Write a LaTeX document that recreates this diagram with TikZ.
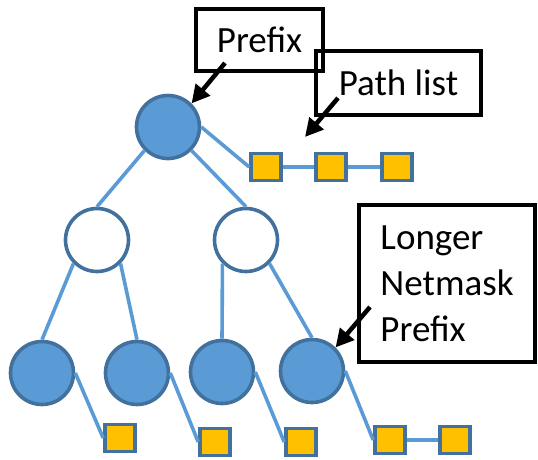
\documentclass[tikz,border=0pt]{standalone}
\usepackage{fontspec}
\setmainfont{Carlito}
\usetikzlibrary{arrows.meta}
\definecolor{nodeblue}{HTML}{5B9BD5}
\definecolor{rimblue}{HTML}{41719C}
\definecolor{pathgold}{HTML}{FFC000}

\begin{document}
\begin{tikzpicture}[x=1pt, y=-1pt, every node/.style={font=\fontsize{37}{46}\selectfont},
    prefixnode/.style={circle, draw=rimblue, line width=3.6pt, fill=nodeblue, minimum size=63pt, inner sep=0pt},
    innernode/.style={prefixnode, fill=white},
    pathentry/.style={rectangle, draw=rimblue, line width=3.6pt, fill=pathgold, minimum width=30pt, minimum height=27pt, inner sep=0pt},
    link/.style={draw=nodeblue, line width=3.6pt},
    callout/.style={rectangle, draw=black, line width=4.5pt, align=left, inner sep=0pt},
    pointer/.style={-{Triangle[length=18pt,width=18pt]}, line width=4.5pt}]
        \useasboundingbox (0,0) rectangle (538,460);
        % trie
        \node[prefixnode] (root) at (168,127) {};
        \node[innernode] (left) at (97,240) {};
        \node[innernode] (right) at (246,240) {};
        \node[prefixnode] (leafa) at (42,373) {};
        \node[prefixnode] (leafb) at (137,373) {};
        \node[prefixnode] (leafc) at (222,372) {};
        \node[prefixnode] (leafd) at (312,371) {};
        % path lists
        \node[pathentry] (rootpa) at (266,167) {};
        \node[pathentry] (rootpb) at (331,167) {};
        \node[pathentry] (rootpc) at (397,167) {};
        \node[pathentry] (leafapa) at (120,438) {};
        \node[pathentry] (leafbpa) at (215,442) {};
        \node[pathentry] (leafcpa) at (301,442) {};
        \node[pathentry] (leafdpa) at (390,440) {};
        \node[pathentry] (leafdpb) at (455,440) {};
        \draw[link] (root.south west) -- (left.north);
        \draw[link] (root.south east) -- (right.north);
        \draw[link] (left.south west) -- (leafa.north);
        \draw[link] (left.south east) -- (leafb.north);
        \draw[link] (right.south west) -- (leafc.north);
        \draw[link] (right.south east) -- (leafd.north);
        \draw[link] (root.east) -- (rootpa.west);
        \draw[link] (rootpa) -- (rootpb);
        \draw[link] (rootpb) -- (rootpc);
        \draw[link] (leafa.east) -- (leafapa.west);
        \draw[link] (leafb.east) -- (leafbpa.west);
        \draw[link] (leafc.east) -- (leafcpa.west);
        \draw[link] (leafd.east) -- (leafdpa.west);
        \draw[link] (leafdpa) -- (leafdpb);
        % callouts
        \node[callout, minimum width=127pt, minimum height=62pt] (prefixlbl) at (259.5,40) {Prefix};
        \node[callout, minimum width=165pt, minimum height=64pt] (pathlbl) at (398.5,83) {Path list};
        \node[callout, minimum width=176pt, minimum height=157pt] (longerlbl) at (447,283.5) {Longer\\Netmask\\Prefix};
        \coordinate (prefixtail) at (225,63);
        \coordinate (pathtail) at (338,98);
        \coordinate (pathtip) at (305,137);
        \coordinate (longertail) at (370,307);
        \draw[pointer] (prefixtail) -- (root.north east);
        \draw[pointer] (pathtail) -- (pathtip);
        \draw[pointer] (longertail) -- (leafd.north east);
    \end{tikzpicture}
\end{document}
